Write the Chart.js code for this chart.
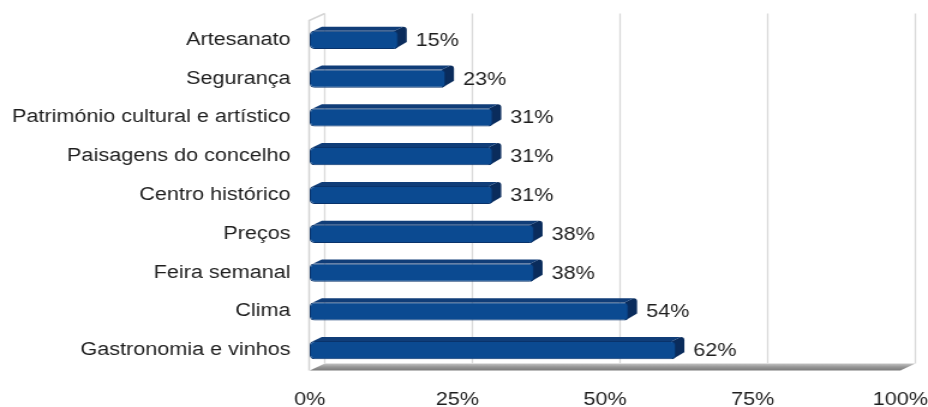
<!DOCTYPE html>
<html>
<head>
<meta charset="utf-8">
<script src="https://cdn.jsdelivr.net/npm/chart.js@4.4.1/dist/chart.umd.min.js"></script>
<style>
  html, body { margin: 0; padding: 0; background: #ffffff; overflow: hidden; }
  #wrap { width: 928px; height: 407px; position: relative; overflow: hidden; }
  /* the chart is drawn narrow and widened, giving the wide lettering */
  #c { position: absolute; left: 0; top: 0; transform: scaleX(1.2005); transform-origin: 0 0; }
</style>
</head>
<body>
<div id="wrap"><canvas id="c" width="773" height="407"></canvas></div>
<script>
// Categories and values (percent of respondents)
const categories = [
  'Artesanato',
  'Segurança',
  'Património cultural e artístico',
  'Paisagens do concelho',
  'Centro histórico',
  'Preços',
  'Feira semanal',
  'Clima',
  'Gastronomia e vinhos'
];
const values = [15, 23, 31, 31, 31, 38, 38, 54, 62];
const xTicks = [0, 25, 50, 75, 100];

const FONT = '"Liberation Sans", Arial, sans-serif';
const TEXT = '#1e1e1e';
const DEPTH_X = 12.5, DEPTH_Y = -7;    // depth of the back wall
const BAR_DX = 7, BAR_DY = -4;         // depth of each bar

// Walls, floor, back-wall grid lines and the bars' side/top faces
const stage = {
  id: 'stage',
  beforeDatasetsDraw(chart) {
    const { ctx, chartArea: a, scales: { x } } = chart;
    const top = a.top, bot = a.bottom + 1;
    ctx.save();
    // floor
    const g = ctx.createLinearGradient(0, bot + DEPTH_Y, 0, bot);
    g.addColorStop(0, '#c4c4c4');
    g.addColorStop(0.5, '#969696');
    g.addColorStop(1, '#7a7a7a');
    ctx.fillStyle = g;
    ctx.beginPath();
    ctx.moveTo(a.left, bot);
    ctx.lineTo(a.left + DEPTH_X, bot + DEPTH_Y);
    ctx.lineTo(a.right + DEPTH_X, bot + DEPTH_Y);
    ctx.lineTo(a.right, bot);
    ctx.closePath();
    ctx.fill();
    // left wall outline
    ctx.strokeStyle = '#d4d4d4';
    ctx.lineWidth = 1.5;
    ctx.beginPath();
    ctx.moveTo(a.left - 0.5, bot);
    ctx.lineTo(a.left - 0.5, top);
    ctx.lineTo(a.left + DEPTH_X, top + DEPTH_Y);
    ctx.stroke();
    // back wall grid lines
    ctx.strokeStyle = '#d9d9d9';
    ctx.lineWidth = 1.3;
    xTicks.forEach(v => {
      const px = x.getPixelForValue(v) + DEPTH_X;
      ctx.beginPath();
      ctx.moveTo(px, top + DEPTH_Y);
      ctx.lineTo(px, bot + DEPTH_Y);
      ctx.stroke();
    });
    // bar side and top faces
    const meta = chart.getDatasetMeta(0);
    meta.data.forEach(bar => {
      const h = bar.height, x0 = bar.base, x1 = bar.x;
      const y0 = bar.y - h / 2, y1 = bar.y + h / 2;
      ctx.fillStyle = '#0a2c5c';
      ctx.beginPath();
      ctx.moveTo(x1 - 3, y0);
      ctx.lineTo(x1 - 3 + BAR_DX, y0 + BAR_DY);
      ctx.quadraticCurveTo(x1 + BAR_DX, y0 + BAR_DY, x1 + BAR_DX, y0 + BAR_DY + 3);
      ctx.lineTo(x1 + BAR_DX, y1 + BAR_DY - 3);
      ctx.lineTo(x1 - 3, y1);
      ctx.closePath();
      ctx.fill();
      ctx.fillStyle = '#103d78';
      ctx.beginPath();
      ctx.moveTo(x0 + 3, y0);
      ctx.lineTo(x0 + 3 + BAR_DX, y0 + BAR_DY);
      ctx.lineTo(x1 + BAR_DX - 3, y0 + BAR_DY);
      ctx.lineTo(x1 - 3, y0);
      ctx.closePath();
      ctx.fill();
    });
    ctx.restore();
  },
  // value labels at the end of each bar
  afterDatasetsDraw(chart) {
    const { ctx } = chart;
    const meta = chart.getDatasetMeta(0);
    ctx.save();
    ctx.font = '18px ' + FONT;
    ctx.fillStyle = TEXT;
    ctx.textAlign = 'left';
    ctx.textBaseline = 'middle';
    meta.data.forEach((bar, i) => {
      ctx.fillText(values[i] + '%', bar.x + BAR_DX + 7.5, bar.y + 1);
    });
    ctx.restore();
  }
};

new Chart(document.getElementById('c'), {
  type: 'bar',
  data: {
    labels: categories,
    datasets: [{
      data: values,
      backgroundColor: '#0b4a91',
      borderColor: '#09336b',
      borderWidth: 1,
      borderRadius: 4,
      borderSkipped: false,
      barPercentage: 0.47,
      categoryPercentage: 1
    }]
  },
  options: {
    indexAxis: 'y',
    responsive: false,
    animation: false,
    devicePixelRatio: 1,
    layout: { padding: { left: 0, right: 23, top: 20.5, bottom: 0 } },
    plugins: { legend: { display: false }, tooltip: { enabled: false } },
    scales: {
      x: {
        min: 0, max: 100,
        afterBuildTicks(s) { s.ticks = xTicks.map(v => ({ value: v })); },
        afterFit(s) { s.height = 37.5; s.paddingLeft = 0; s.paddingRight = 0; },
        grid: { display: false, drawTicks: false },
        border: { display: false },
        ticks: {
          padding: 20,
          maxRotation: 0,
          color: TEXT,
          font: { family: FONT, size: 18 },
          callback: v => v + '%'
        }
      },
      y: {
        afterFit(s) { s.width = 258; s.paddingTop = 0; s.paddingBottom = 0; },
        grid: { display: false, drawTicks: false },
        border: { display: false },
        ticks: {
          padding: 16,
          color: TEXT,
          font: { family: FONT, size: 18 }
        }
      }
    }
  },
  plugins: [stage]
});
</script>
</body>
</html>
